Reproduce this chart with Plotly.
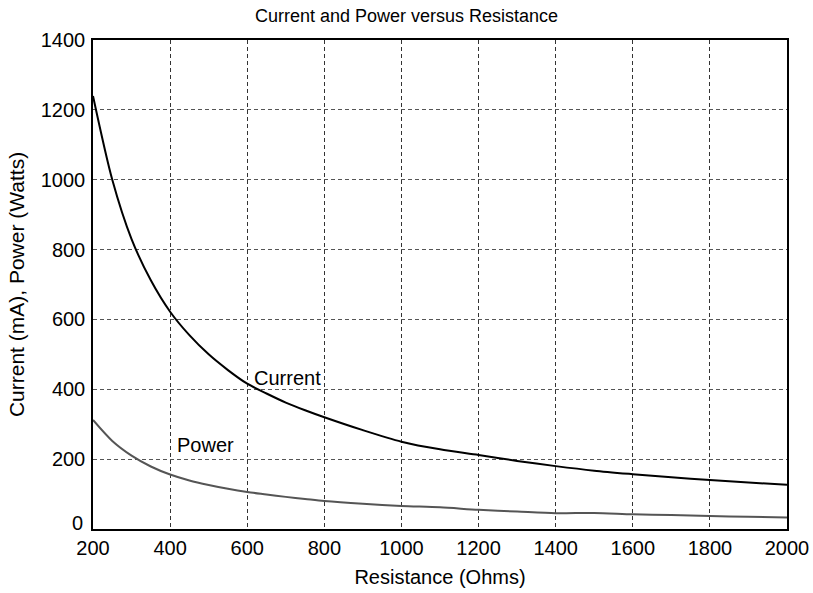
import plotly.graph_objects as go

resistance = [200, 250, 300, 350, 400, 450, 500, 550, 600, 650, 700, 750, 800, 900, 1000,
              1100, 1200, 1300, 1400, 1500, 1600, 1700, 1800, 1900, 2000]
current_ma = [1240, 1000, 830, 712, 622, 555, 500, 455, 416, 388, 362, 340, 320, 283, 250,
              228, 212, 195, 180, 167, 157, 148, 140, 133, 127]
power_w = [312, 252, 210, 179, 156, 139, 126, 115, 106, 99, 92, 86, 80, 72, 66,
           62, 55, 50, 45, 46, 42, 40, 37, 35, 33]

x_ticks = [200, 400, 600, 800, 1000, 1200, 1400, 1600, 1800, 2000]
y_ticks = [0, 200, 400, 600, 800, 1000, 1200, 1400]
y_ticktext = ["", "200", "400", "600", "800", "1000", "1200", "1400"]

FONT = "Liberation Sans, Arial, Helvetica, sans-serif"

fig = go.Figure()
fig.add_trace(go.Scatter(x=resistance, y=current_ma, mode="lines", name="Current",
                         line=dict(color="black", width=2, shape="spline", smoothing=0.8)))
fig.add_trace(go.Scatter(x=resistance, y=power_w, mode="lines", name="Power",
                         line=dict(color="#555555", width=2, shape="spline", smoothing=0.8)))

fig.add_annotation(x=613, y=432, text="Current", showarrow=False, xanchor="left",
                   yanchor="middle", font=dict(size=20, color="black", family=FONT))
fig.add_annotation(x=413, y=240, text="Power", showarrow=False, xanchor="left",
                   yanchor="middle", font=dict(size=20, color="black", family=FONT))
# y-axis "0" label, lifted slightly above the corner like the reference
fig.add_annotation(x=0, xref="paper", y=0, yref="y", text="0", showarrow=False,
                   xanchor="right", yanchor="bottom", xshift=-8, yshift=-7,
                   font=dict(size=20, color="black", family=FONT))

def axis_style(gridcolor):
    return dict(
        showline=True, linecolor="black", linewidth=1.5, mirror=True,
        showgrid=True, gridcolor=gridcolor, gridwidth=1, griddash="4px,3px",
        zeroline=False, ticks="", automargin=False, ticklabeloverflow="allow",
        tickfont=dict(size=20, color="black", family=FONT),
    )

W, H = 813, 593
fig.update_layout(
    width=W, height=H,
    paper_bgcolor="white", plot_bgcolor="white",
    showlegend=False,
    margin=dict(l=93, r=26, t=40, b=64),
    title=dict(text="Current and Power versus Resistance", x=0.5, xanchor="center",
               xref="container", yref="container", y=1 - 16 / H, yanchor="middle",
               font=dict(size=18, color="black", family=FONT)),
    xaxis=dict(range=[200, 2000], tickvals=x_ticks, ticklabelstandoff=0,
               title=dict(text="Resistance (Ohms)", standoff=12,
                          font=dict(size=20, color="black", family=FONT)),
               **axis_style("#333333")),
    yaxis=dict(range=[0, 1400], tickvals=y_ticks, ticktext=y_ticktext,
               ticklabelstandoff=2,
               title=dict(text="Current (mA), Power (Watts)", standoff=10,
                          font=dict(size=21, color="black", family=FONT)),
               **axis_style("#555555")),
)

fig.write_html("out.html", config={"displayModeBar": False},
               post_script="document.body.style.margin='0';")
